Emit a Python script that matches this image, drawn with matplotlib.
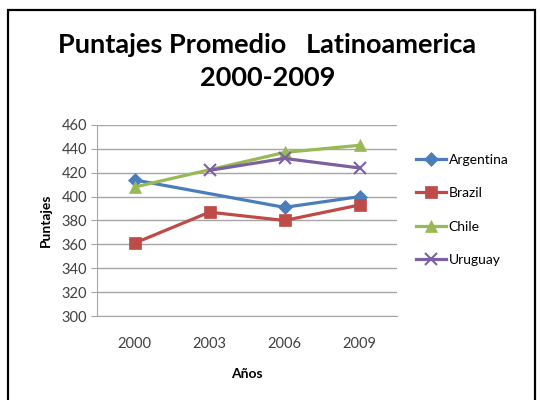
import matplotlib
matplotlib.use('Agg')
import matplotlib.pyplot as plt
import numpy as np
from matplotlib.patches import Rectangle

years = ['2000', '2003', '2006', '2009']
argentina = [414, np.nan, 391, 400]
brazil = [361, 387, 380, 393]
chile = [408, np.nan, 437, 443]
uruguay = [np.nan, 422, 432, 424]

plt.rcParams['font.family'] = ['Lato', 'DejaVu Sans']

fig = plt.figure(figsize=(5.4, 4), dpi=100)
fig.patch.set_facecolor('white')
fig.patches.append(Rectangle((8 / 540, -0.05), 527 / 540, 1.025, transform=fig.transFigure,
                             fill=False, edgecolor='black', linewidth=1.6))

ax = fig.add_axes([97 / 540, 84 / 400, 300 / 540, 191 / 400])

x = np.arange(len(years))
series = [
    ('Argentina', argentina, '#4A7EBB', 'D', 7),
    ('Brazil', brazil, '#BE4B48', 's', 9),
    ('Chile', chile, '#98B954', '^', 9),
    ('Uruguay', uruguay, '#7D60A0', 'x', 9),
]
for name, vals, color, marker, ms in series:
    v = np.array(vals, dtype=float)
    ok = ~np.isnan(v)
    ax.plot(x[ok], v[ok], color=color, linewidth=2.3, marker=marker, markersize=ms,
            markeredgewidth=1.5 if marker == 'x' else 0.5, markeredgecolor=color, label=name)

ax.set_xlim(-0.5, 3.5)
ax.set_ylim(300, 460)
ax.set_yticks(range(300, 461, 20))
ax.set_xticks(x)
ax.set_xticklabels(years)
ax.grid(axis='y', color='#A6A6A6', linewidth=1)
ax.set_axisbelow(True)
for s in ['top', 'right']:
    ax.spines[s].set_visible(False)
for s in ['left', 'bottom']:
    ax.spines[s].set_color('#A6A6A6')
ax.tick_params(axis='y', length=4, color='#A6A6A6', labelsize=10.5, labelcolor='#404040', pad=3)
ax.tick_params(axis='x', length=0, labelsize=10.5, labelcolor='#404040', pad=15)

ax.set_xlabel('Años', fontsize=10, fontweight='bold', labelpad=12)
ax.set_ylabel('Puntajes', fontsize=10, fontweight='bold', labelpad=7)

fig.text(0.495, 0.8875, 'Puntajes Promedio   Latinoamerica', ha='center', va='center',
         fontsize=19.5, fontweight='bold')
fig.text(0.495, 0.805, '2000-2009', ha='center', va='center', fontsize=19.5, fontweight='bold')

ax.legend(loc='upper left', bbox_to_anchor=(1.02, 0.915), frameon=False, fontsize=10,
          handlelength=2.2, labelspacing=1.55, handletextpad=0.2)

fig.savefig('out.png', dpi=100)
